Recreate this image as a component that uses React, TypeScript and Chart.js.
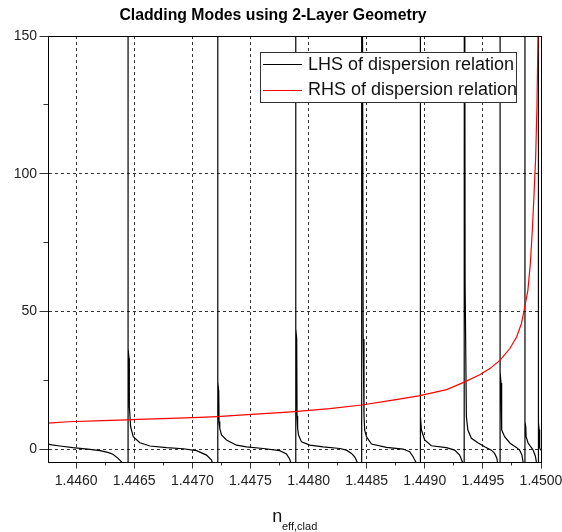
import { useEffect, useRef } from 'react';
import { Chart, registerables } from 'chart.js';

Chart.register(...registerables);

const FONT = '"Liberation Sans", Arial, sans-serif';

const titleText = 'Cladding Modes using 2-Layer Geometry';
const xTitleMain = 'n';
const xTitleSub = 'eff,clad';
const lhsLabel = 'LHS of dispersion relation';
const rhsLabel = 'RHS of dispersion relation';

const xMin = 1.445758;
const xMax = 1.45;
const yMin = -5;
const yMax = 150;

const xMajorTicks = [1.446, 1.4465, 1.447, 1.4475, 1.448, 1.4485, 1.449, 1.4495, 1.45];
const xMinorTicks = [1.44625, 1.44675, 1.44725, 1.44775, 1.44825, 1.44875, 1.44925, 1.44975];
const yMajorTicks = [0, 50, 100, 150];
const yMinorTicks = [25, 75, 125];

// LHS of dispersion relation (black), branches separated by asymptotes (±300 = off scale)
const lhsX = [
  1.445758, 1.445792, 1.445861, 1.445972, 1.446119, 1.446205, 1.446273, 1.446316, 1.446359, 1.446394, 1.446415, 1.446428, 1.446447,
  1.446447, 1.446447, 1.446455, 1.446458, 1.446469, 1.446491, 1.446549, 1.446635, 1.446778, 1.446921, 1.447036, 1.447122, 1.447165, 1.447185, 1.447198, 1.447219,
  1.447219, 1.447219, 1.447227, 1.44723, 1.447236, 1.447251, 1.447294, 1.44738, 1.447466, 1.447609, 1.447752, 1.44781, 1.447838, 1.44786, 1.447873, 1.44789,
  1.44789, 1.44789, 1.447898, 1.447901, 1.447906, 1.447914, 1.447939, 1.448011, 1.448125, 1.448269, 1.448326, 1.448369, 1.448397, 1.448417, 1.448436, 1.448449, 1.448452,
  1.448457, 1.44847, 1.448477, 1.448483, 1.448498, 1.448541, 1.44867, 1.448813, 1.44887, 1.448899, 1.448922, 1.448939, 1.44896,
  1.44896, 1.44896, 1.448967, 1.448971, 1.448999, 1.449057, 1.449186, 1.449257, 1.4493, 1.449323, 1.449333, 1.449337,
  1.449341, 1.449347, 1.449358, 1.449371, 1.449401, 1.449457, 1.449515, 1.449573, 1.449601, 1.449621, 1.449633, 1.449648,
  1.449648, 1.449648, 1.449656, 1.449659, 1.449664, 1.449687, 1.449734, 1.449788, 1.449816, 1.449836, 1.449847, 1.449862,
  1.449862, 1.449862, 1.449869, 1.449872, 1.449889, 1.449902, 1.44993, 1.449951, 1.44996, 1.449978,
  1.449978, 1.449978, 1.449984, 1.449986, 1.449991, 1.449997,
];
const lhsY = [
  1.8, 1.5, 1.1, 0.5, -0.1, -0.6, -1.2, -1.9, -3.3, -4.8, -8, -20, -300,
  300, 36.6, 33, 15.3, 8.1, 4.5, 2.3, 1.1, 0.5, 0.1, -0.6, -2.2, -4, -6.5, -12, -300,
  300, 24.4, 21, 10, 7.5, 5.1, 3.3, 1.4, 0.8, 0.2, -0.6, -1.8, -3.7, -6.5, -12, -300,
  300, 43.7, 40, 12, 7.5, 5.1, 2.6, 1.4, 0.8, 0.2, -0.4, -1.6, -2.8, -4.6, -8, -14, -300,
  300, 40, 12, 6.9, 4.5, 1.8, 0.6, 0, -1, -2.8, -4.6, -9, -300,
  300, 14.1, 12, 6.9, 3.3, 1.2, 0.5, -0.4, -2.2, -4.6, -9, -300,
  300, 60, 11.7, 6.9, 3.9, 2.3, 0.8, -0.4, -1.6, -3.4, -7, -300,
  300, 28, 24, 10, 7, 4.5, 2.1, 0.6, -0.4, -2.2, -5, -300,
  300, 10, 8, 4.5, 2.2, 1.4, -0.2, -2.5, -4.6, -300,
  300, 9.7, 7, 2.1, 0.5, -0.5,
];

// RHS of dispersion relation (red)
const rhsX = [
  1.445758, 1.44593, 1.44623, 1.446437, 1.446531, 1.446807, 1.447064, 1.447211, 1.447408, 1.447752, 1.447881,
  1.448182, 1.448457, 1.448698, 1.448948, 1.449188, 1.449335, 1.449473, 1.44956, 1.449646, 1.449732, 1.44979,
  1.449831, 1.449855, 1.449887, 1.449908, 1.449925, 1.449939, 1.449954, 1.449965, 1.449974, 1.44998,
];
const rhsY = [
  9.4, 9.9, 10.3, 10.6, 10.8, 11.1, 11.5, 11.8, 12.3, 13.2, 13.6,
  14.7, 16.0, 17.6, 19.3, 21.6, 24.2, 27.0, 29.2, 32.2, 36.5, 40.7,
  45.5, 50.4, 57.6, 67.3, 79.3, 91.4, 105.9, 124, 149.4, 260,
];

const isXMajor = (v: number) => Math.abs(v * 2000 - Math.round(v * 2000)) < 1e-6;
const isYMajor = (v: number) => Math.abs(v % 50) < 1e-9;

const align = (p: number) => Math.round(p - 0.5) + 0.5;

const decorPlugin = {
  id: 'decor',
  afterDraw(chart: any) {
    const { ctx, chartArea: a, scales } = chart;
    const x = scales.x;
    const y = scales.y;
    ctx.save();
    // tick marks
    ctx.strokeStyle = '#333';
    ctx.lineWidth = 1;
    ctx.setLineDash([]);
    ctx.beginPath();
    const bottom = align(a.bottom);
    const left = align(a.left);
    xMajorTicks.forEach((v) => {
      const px = align(x.getPixelForValue(v));
      ctx.moveTo(px, bottom);
      ctx.lineTo(px, bottom + 6);
    });
    xMinorTicks.forEach((v) => {
      const px = align(x.getPixelForValue(v));
      ctx.moveTo(px, bottom);
      ctx.lineTo(px, bottom + 3);
    });
    yMajorTicks.forEach((v) => {
      const py = align(y.getPixelForValue(v));
      ctx.moveTo(left - 9, py);
      ctx.lineTo(left, py);
    });
    yMinorTicks.forEach((v) => {
      const py = align(y.getPixelForValue(v));
      ctx.moveTo(left - 5, py);
      ctx.lineTo(left, py);
    });
    ctx.stroke();

    // plot box
    ctx.strokeStyle = '#000';
    const top = align(a.top);
    const right = align(a.right);
    ctx.strokeRect(left, top, right - left, bottom - top);

    // legend
    const lx = 260.5, ly = 52.5, lw = 256, lh = 50;
    ctx.fillStyle = '#fff';
    ctx.fillRect(lx, ly, lw, lh);
    ctx.strokeStyle = '#333';
    ctx.strokeRect(lx, ly, lw, lh);
    ctx.lineWidth = 1;
    ctx.strokeStyle = '#000';
    ctx.beginPath();
    ctx.moveTo(263, 64.5);
    ctx.lineTo(302, 64.5);
    ctx.stroke();
    ctx.strokeStyle = '#ff0000';
    ctx.beginPath();
    ctx.moveTo(263, 90.5);
    ctx.lineTo(302, 90.5);
    ctx.stroke();
    ctx.fillStyle = '#111';
    ctx.font = `18px ${FONT}`;
    ctx.textAlign = 'left';
    ctx.textBaseline = 'alphabetic';
    ctx.fillText(lhsLabel, 308, 69.5);
    ctx.fillText(rhsLabel, 308, 95);

    // title
    ctx.fillStyle = '#000';
    ctx.font = `bold 15.8px ${FONT}`;
    ctx.textAlign = 'center';
    ctx.fillText(titleText, 273, 20);

    // x axis title with subscript
    ctx.textAlign = 'left';
    ctx.fillStyle = '#111';
    ctx.font = `18px ${FONT}`;
    ctx.fillText(xTitleMain, 272.3, 522);
    ctx.font = `11px ${FONT}`;
    ctx.fillText(xTitleSub, 282, 530);
    ctx.restore();
  },
};

export default function App() {
  const ref = useRef<HTMLCanvasElement | null>(null);

  useEffect(() => {
    document.body.style.margin = '0';
    const canvas = ref.current;
    if (!canvas) return;
    Chart.defaults.font.family = FONT;
    const chart = new Chart(canvas, {
      type: 'line',
      data: {
        datasets: [
          {
            label: rhsLabel,
            data: rhsX.map((v, i) => ({ x: v, y: rhsY[i] })),
            borderColor: '#ff0000',
            borderWidth: 1.2,
            pointRadius: 0,
            tension: 0,
            fill: false,
          },
          {
            label: lhsLabel,
            data: lhsX.map((v, i) => ({ x: v, y: lhsY[i] })),
            borderColor: '#000000',
            borderWidth: 1.2,
            pointRadius: 0,
            tension: 0,
            fill: false,
          },
        ],
      },
      options: {
        responsive: false,
        animation: false,
        devicePixelRatio: 1,
        events: [],
        layout: { padding: { top: 36, right: 21, left: 0, bottom: 0 } },
        plugins: {
          legend: { display: false },
          title: { display: false },
          tooltip: { enabled: false },
        },
        scales: {
          x: {
            type: 'linear',
            min: xMin,
            max: xMax,
            afterBuildTicks: (s: any) => {
              s.ticks = [...xMajorTicks, ...xMinorTicks].sort((p, q) => p - q).map((v) => ({ value: v }));
            },
            afterFit: (s: any) => {
              s.height = 69.2;
              s.paddingLeft = 0;
              s.paddingRight = 0;
              s.paddingTop = 0;
              s.paddingBottom = 0;
            },
            ticks: {
              autoSkip: false,
              maxRotation: 0,
              minRotation: 0,
              padding: 10,
              color: '#222',
              font: { size: 14, family: FONT },
              callback: (v: any) => (isXMajor(Number(v)) ? Number(v).toFixed(4) : ''),
            },
            grid: {
              drawTicks: false,
              lineWidth: 1,
              color: (c: any) => {
                const v = c.tick ? c.tick.value : NaN;
                return isXMajor(v) && v < xMax - 1e-7 ? '#333' : 'rgba(0,0,0,0)';
              },
            },
            border: { display: true, color: '#000', width: 1, dash: [3, 3] },
          },
          y: {
            type: 'linear',
            min: yMin,
            max: yMax,
            afterBuildTicks: (s: any) => {
              s.ticks = [...yMajorTicks, ...yMinorTicks].sort((p, q) => p - q).map((v) => ({ value: v }));
            },
            afterFit: (s: any) => {
              s.width = 48;
              s.paddingLeft = 0;
              s.paddingRight = 0;
              s.paddingTop = 0;
              s.paddingBottom = 0;
            },
            ticks: {
              autoSkip: false,
              padding: 11,
              color: '#222',
              font: { size: 14, family: FONT },
              callback: (v: any) => (isYMajor(Number(v)) ? String(v) : ''),
            },
            grid: {
              drawTicks: false,
              lineWidth: 1,
              color: (c: any) => {
                const v = c.tick ? c.tick.value : NaN;
                return isYMajor(v) && v < yMax ? '#333' : 'rgba(0,0,0,0)';
              },
            },
            border: { display: true, color: '#000', width: 1, dash: [3, 3] },
          },
        },
      },
      plugins: [decorPlugin],
    } as any);
    return () => chart.destroy();
  }, []);

  return (
    <div style={{ width: 562, height: 532 }}>
      <canvas ref={ref} width={562} height={532} style={{ display: 'block' }} />
    </div>
  );
}
